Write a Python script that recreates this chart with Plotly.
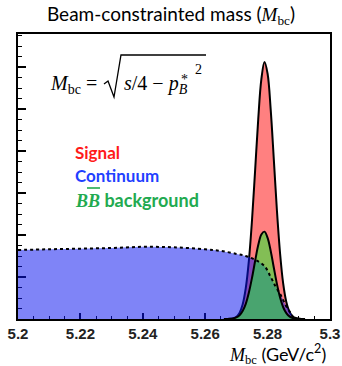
import plotly.graph_objects as go

# ---- data ----
peak_x = [5.266, 5.267, 5.268, 5.269, 5.270, 5.271, 5.272, 5.273, 5.274, 5.275,
          5.276, 5.277, 5.278, 5.279, 5.280, 5.281, 5.282, 5.283, 5.284, 5.285,
          5.286, 5.287, 5.288, 5.289, 5.290, 5.291, 5.292]
signal_y = [0.0003, 0.0014, 0.005, 0.018, 0.054, 0.144, 0.344, 0.734, 1.39, 2.35,
            3.54, 4.76, 5.71, 6.12, 5.84, 4.98, 3.79, 2.57, 1.56, 0.84,
            0.405, 0.174, 0.068, 0.023, 0.007, 0.002, 0.0]
bb_y = [0.0004, 0.0015, 0.005, 0.014, 0.037, 0.087, 0.19, 0.36, 0.63, 0.98,
        1.38, 1.76, 2.01, 2.08, 1.93, 1.62, 1.22, 0.83, 0.51, 0.28,
        0.14, 0.063, 0.025, 0.009, 0.003, 0.001, 0.0]
cont_x = [5.2, 5.21, 5.22, 5.23, 5.24, 5.25, 5.26, 5.265, 5.27, 5.273, 5.276,
          5.279, 5.281, 5.2826, 5.2842, 5.2858, 5.2874, 5.2884, 5.289]
cont_y = [1.643, 1.66, 1.675, 1.69, 1.718, 1.707, 1.66, 1.62, 1.55, 1.50, 1.41,
          1.26, 1.0, 0.77, 0.57, 0.33, 0.14, 0.02, 0.0]
x_ticks = [5.2, 5.22, 5.24, 5.26, 5.28, 5.3]
x_ticklabels = ["5.2", "5.22", "5.24", "5.26", "5.28", "5.3"]

SERIF = "Liberation Serif"
SANS = "Lato"

fig = go.Figure()
fig.add_trace(go.Scatter(x=peak_x, y=signal_y, mode="lines", fill="tozeroy",
                         fillcolor="#ff8080", line=dict(color="black", width=2, shape="spline"),
                         hoverinfo="skip", showlegend=False))
fig.add_trace(go.Scatter(x=cont_x, y=cont_y, mode="lines", fill="tozeroy",
                         fillcolor="rgba(10,20,240,0.52)", line=dict(width=0, shape="spline"),
                         hoverinfo="skip", showlegend=False))
fig.add_trace(go.Scatter(x=peak_x, y=bb_y, mode="lines", fill="tozeroy",
                         fillcolor="rgba(30,240,50,0.55)", line=dict(color="black", width=2, shape="spline"),
                         hoverinfo="skip", showlegend=False))
fig.add_trace(go.Scatter(x=cont_x, y=cont_y, mode="lines",
                         line=dict(color="black", width=2, dash="dot", shape="spline"),
                         hoverinfo="skip", showlegend=False))

def px2p(px, py):
    return (px - 18) / 312, (319 - py) / 285

ann = []
def add_text(text, px, py, size, color="black", family=SERIF, xanchor="left"):
    xp, yp = px2p(px, py)
    ann.append(dict(text=text, x=xp, y=yp, xref="paper", yref="paper", showarrow=False,
                    xanchor=xanchor, yanchor="middle", font=dict(family=family, size=size, color=color)))

add_text("<i>M</i><sub>bc</sub> =", 48, 84, 20)
add_text("<i>s</i>/4 − <i>p</i><sub><i>B</i></sub>", 122, 84, 20)
add_text("*", 179, 79, 14)
add_text("2", 193, 70, 14)
add_text("<b>Signal</b>", 73, 152, 17, color="#ff1a1a", family=SANS)
add_text("<b>Continuum</b>", 73, 175, 17, color="#1f3fff", family=SANS)
add_text("<b><i>BB</i></b><span style='font-family:Lato'><b> background</b></span>", 73, 200, 18,
         color="#22aa50", family=SERIF)
add_text("<i>M</i><sub>bc</sub><span style='font-family:Lato'> (GeV/c<sup>2</sup>)</span>", 328, 354, 18,
         xanchor="right")

shapes = []
pts = [px2p(104, 84), px2p(108, 81), px2p(114, 97), px2p(121, 55), px2p(206, 55)]
path = "M " + " L ".join(f"{a:.4f},{b:.4f}" for a, b in pts)
shapes.append(dict(type="path", path=path, xref="paper", yref="paper",
                   line=dict(color="black", width=1.3)))
o1, o2 = px2p(87, 188), px2p(100, 188)
shapes.append(dict(type="line", x0=o1[0], y0=o1[1], x1=o2[0], y1=o2[1], xref="paper", yref="paper",
                   line=dict(color="#22aa50", width=1.6)))

fig.update_layout(
    width=342, height=366,
    margin=dict(l=18, r=12, t=34, b=47, autoexpand=False),
    paper_bgcolor="white", plot_bgcolor="white",
    title=dict(text="Beam-constrainted mass (<span style='font-family:Liberation Serif'><i>M</i><sub>bc</sub></span>)",
               x=0.5, xanchor="center", y=1 - 14 / 366, yanchor="middle", yref="container",
               font=dict(family=SANS, size=19, color="black")),
    annotations=ann, shapes=shapes, showlegend=False,
    xaxis=dict(range=[5.2, 5.3], tickvals=x_ticks, ticktext=x_ticklabels, automargin=False,
               ticks="inside", ticklen=6, tickwidth=1.5, tickcolor="black",
               minor=dict(dtick=0.005, ticks="inside", ticklen=3, tickcolor="black", tickwidth=1.2),
               showgrid=False, zeroline=False, showline=True, linecolor="black", linewidth=2,
               mirror=True, layer="below traces",
               tickfont=dict(family="Liberation Sans", size=15, color="#222", weight="bold")),
    yaxis=dict(range=[0, 285 / 42], dtick=1, tick0=0, showticklabels=False, automargin=False,
               ticks="inside", ticklen=8, tickwidth=1.5, tickcolor="black",
               minor=dict(dtick=0.25, ticks="inside", ticklen=4, tickcolor="black", tickwidth=1.2),
               showgrid=False, zeroline=False, showline=True, linecolor="black", linewidth=2,
               mirror=True, layer="below traces"),
)

fig.write_html("out.html", config={"displayModeBar": False},
               post_script="document.body.style.margin='0';")
